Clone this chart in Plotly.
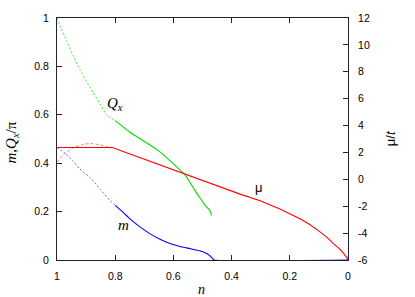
import plotly.graph_objects as go

# Q_x / pi
qx_dash_n = [1.0, 0.985, 0.967, 0.945, 0.921, 0.898, 0.875, 0.85, 0.829, 0.8]
qx_dash_v = [1.0, 0.955, 0.908, 0.845, 0.786, 0.737, 0.691, 0.64, 0.598, 0.576]
qx_n = [0.8, 0.749, 0.70, 0.646, 0.60, 0.56, 0.53, 0.509, 0.49, 0.474, 0.469]
qx_v = [0.576, 0.528, 0.49, 0.447, 0.397, 0.352, 0.295, 0.257, 0.225, 0.203, 0.183]

# m
m_dash_n = [1.0, 0.97, 0.944, 0.924, 0.885, 0.85, 0.818, 0.8]
m_dash_v = [0.466, 0.438, 0.407, 0.379, 0.339, 0.29, 0.246, 0.226]
m_n = [0.8, 0.778, 0.749, 0.715, 0.68, 0.646, 0.612, 0.578, 0.543, 0.51, 0.486, 0.475, 0.465, 0.46, 0.0]
m_v = [0.226, 0.203, 0.17, 0.137, 0.108, 0.086, 0.068, 0.056, 0.047, 0.038, 0.027, 0.018, 0.006, 0.0, 0.0]

# mu / t
mu_dash_n = [1.0, 0.976, 0.942, 0.907, 0.884, 0.85, 0.827, 0.81]
mu_dash_v = [1.27, 1.88, 2.37, 2.61, 2.66, 2.56, 2.42, 2.33]
mu_n = [1.0, 0.81, 0.749, 0.56, 0.44, 0.371, 0.302, 0.234, 0.165, 0.13, 0.096,
        0.07, 0.051, 0.03, 0.016, 0.008, 0.002, 0.0]
mu_v = [2.37, 2.37, 1.88, 0.37, -0.55, -1.10, -1.60, -2.20, -2.93, -3.38, -3.91,
        -4.35, -4.76, -5.15, -5.49, -5.7, -5.88, -6.0]

x_ticks = [1, 0.8, 0.6, 0.4, 0.2, 0]
x_labels = ["1", "0.8", "0.6", "0.4", "0.2", "0"]
y_ticks = [0, 0.2, 0.4, 0.6, 0.8, 1]
y_labels = ["0", "0.2", "0.4", "0.6", "0.8", "1"]
y2_ticks = [-6, -4, -2, 0, 2, 4, 6, 8, 10, 12]
y2_labels = [str(v) for v in y2_ticks]

RED = "#ff0000"
GREEN = "#00dd00"
BLUE = "#0000ff"

fig = go.Figure()
fig.add_trace(go.Scatter(x=mu_dash_n, y=mu_dash_v, mode="lines", yaxis="y2",
                         line=dict(color=RED, width=1, dash="3px,2px", shape="spline", smoothing=0.6),
                         opacity=0.5))
fig.add_trace(go.Scatter(x=mu_n, y=mu_v, mode="lines", yaxis="y2",
                         line=dict(color=RED, width=1.1)))
fig.add_trace(go.Scatter(x=qx_dash_n, y=qx_dash_v, mode="lines",
                         line=dict(color=GREEN, width=1, dash="2px,2px", shape="spline", smoothing=0.5),
                         opacity=0.75))
fig.add_trace(go.Scatter(x=qx_n, y=qx_v, mode="lines",
                         line=dict(color=GREEN, width=1.1, shape="spline", smoothing=0.5)))
fig.add_trace(go.Scatter(x=m_dash_n, y=m_dash_v, mode="lines",
                         line=dict(color=BLUE, width=1, dash="2px,2px", shape="spline", smoothing=0.5),
                         opacity=0.6))
fig.add_trace(go.Scatter(x=m_n, y=m_v, mode="lines",
                         line=dict(color=BLUE, width=1.1, shape="spline", smoothing=0.4)))

tickfont = dict(family="Liberation Sans, Arial, sans-serif", size=10.5, color="#000")
axcol = "#222222"

fig.update_layout(
    width=415, height=297,
    margin=dict(l=57, r=67, t=14, b=37),
    paper_bgcolor="white", plot_bgcolor="white",
    showlegend=False,
    xaxis=dict(range=[1, 0], tickvals=x_ticks, ticktext=x_labels, ticks="inside",
               ticklen=5, tickcolor=axcol, showline=True, linecolor=axcol, linewidth=1,
               mirror="ticks", showgrid=False, zeroline=False, tickfont=tickfont,
               ticklabelstandoff=6),
    yaxis=dict(range=[0, 1], tickvals=y_ticks, ticktext=y_labels, ticks="inside",
               ticklen=5, tickcolor=axcol, showline=True, linecolor=axcol, linewidth=1,
               showgrid=False, zeroline=False, tickfont=tickfont, ticklabelstandoff=5),
    yaxis2=dict(range=[-6, 12], tickvals=y2_ticks, ticktext=y2_labels, ticks="inside",
                ticklen=5, tickcolor=axcol, showline=True, linecolor=axcol, linewidth=1,
                overlaying="y", side="right", showgrid=False, zeroline=False,
                tickfont=tickfont, ticklabelstandoff=7),
)

serif = "Liberation Serif, Times New Roman, serif"
fig.add_annotation(text="<i>n</i>", xref="paper", yref="paper", x=0.497, y=-0.122,
                   xanchor="center", yanchor="middle",
                   showarrow=False, font=dict(family=serif, size=14, color="#000"))
fig.add_annotation(text="<i>m</i>,<i>Q<sub>x</sub></i>/π", xref="paper", yref="paper",
                   x=-0.155, y=0.485, xanchor="center", yanchor="middle", textangle=-90,
                   showarrow=False, font=dict(family=serif, size=15, color="#000"))
fig.add_annotation(text="μ/<i>t</i>", xref="paper", yref="paper",
                   x=1.145, y=0.504, xanchor="center", yanchor="middle", textangle=-90,
                   showarrow=False,
                   font=dict(family="Liberation Sans, Arial, sans-serif", size=13, color="#000"))
fig.add_annotation(text="<i>Q<sub>x</sub></i>", xref="x", yref="y", x=0.80, y=0.646,
                   xanchor="center", yanchor="middle",
                   showarrow=False, font=dict(family=serif, size=15, color="#000"))
fig.add_annotation(text="<i>m</i>", xref="x", yref="y", x=0.77, y=0.146,
                   xanchor="center", yanchor="middle",
                   showarrow=False, font=dict(family=serif, size=15, color="#000"))
fig.add_annotation(text="μ", xref="x", yref="y", x=0.306, y=0.30,
                   xanchor="center", yanchor="middle", showarrow=False,
                   font=dict(family="Liberation Sans, Arial, sans-serif", size=13, color="#000"))

fig.write_html("out.html", config={"displayModeBar": False},
               post_script="document.body.style.margin='0px';")
